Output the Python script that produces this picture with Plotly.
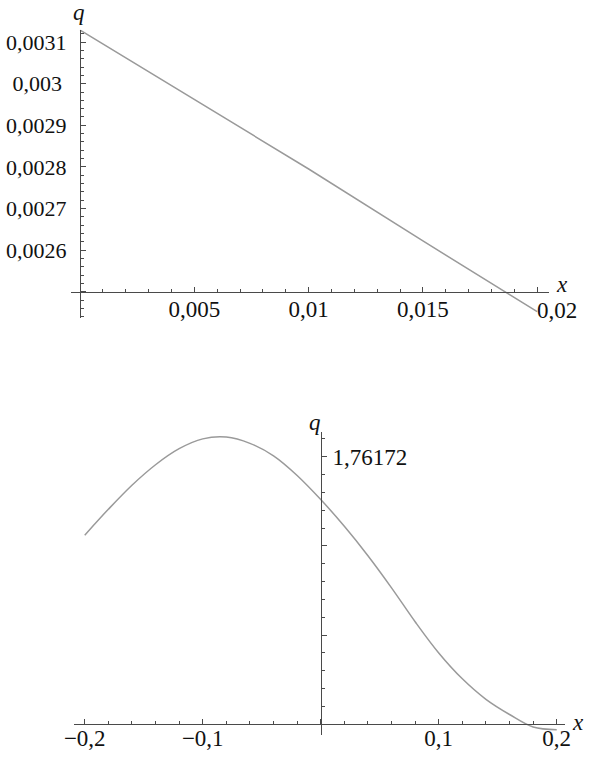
import plotly.graph_objects as go

# upper graph: q(x) for small x
x_top = [0.0, 0.005, 0.01, 0.015, 0.02]
q_top = [0.003129, 0.002962, 0.002795, 0.002622, 0.002452]
top_xticks = [0.0, 0.005, 0.01, 0.015, 0.02]
top_xlabels = ["", "0,005", "0,01", "0,015", ""]
top_yticks = [0.0025, 0.0026, 0.0027, 0.0028, 0.0029, 0.003, 0.0031]
top_ylabels = ["", "0,0026", "0,0027", "0,0028", "0,0029", "0,003\u2009", "0,0031"]

# lower graph: q(x) on -0.2 .. 0.2
x_bot = [-0.2, -0.18, -0.16, -0.14, -0.12, -0.1, -0.08, -0.06, -0.04, -0.02, 0.0,
         0.02, 0.04, 0.06, 0.08, 0.1, 0.12, 0.14, 0.16, 0.18, 0.2]
q_bot = [1.76171912, 1.76171941, 1.76171968, 1.76171991, 1.76172009, 1.76172020,
         1.76172022, 1.76172015, 1.76172001, 1.76171979, 1.76171952, 1.76171922,
         1.76171889, 1.76171853, 1.76171815, 1.76171780, 1.76171751, 1.76171728,
         1.76171711, 1.76171697, 1.76171694]
bot_xticks = [-0.2, -0.1, 0.0, 0.1, 0.2]
bot_xlabels = ["\u22120,2", "\u22120,1", "", "0,1", "0,2"]
bot_yticks = [1.761717, 1.761718, 1.761719, 1.76172]
bot_ylabels = ["", "", "", "1,76172"]

W, H = 604, 758
curve = "#9a9a9a"
axc = "#4a4a4a"
serif = "Liberation Serif, Times New Roman, serif"
tickfont = dict(family=serif, size=23, color="#111")


def px(v):
    return v / W


def py(v):
    return 1 - v / H


def axis(**kw):
    d = dict(showline=True, linecolor=axc, linewidth=1.3, showgrid=False,
             zeroline=False, tickcolor=axc, tickwidth=1, ticklen=5,
             tickmode="array", tickfont=tickfont, anchor="free", automargin=False)
    d.update(kw)
    return d


fig = go.Figure()
fig.add_trace(go.Scatter(x=x_top, y=q_top, mode="lines", xaxis="x", yaxis="y",
                         line=dict(color=curve, width=1.5), showlegend=False))
fig.add_trace(go.Scatter(x=x_bot, y=q_bot, mode="lines", xaxis="x2", yaxis="y2",
                         line=dict(color=curve, width=1.5, shape="spline"),
                         showlegend=False))

fig.update_layout(
    template="none",
    width=W, height=H, autosize=False,
    margin=dict(l=0, r=0, t=0, b=0, pad=0),
    paper_bgcolor="white", plot_bgcolor="white",
    xaxis=axis(domain=[px(71), px(548.6)], range=[-0.0004, 0.0205],
               position=py(291.7), ticks="inside",
               tickvals=top_xticks, ticktext=top_xlabels, ticklabelstandoff=-3,
               minor=dict(ticks="inside", ticklen=3, dtick=0.001, tick0=0,
                          tickcolor=axc, tickwidth=1)),
    yaxis=axis(domain=[py(318), py(29.5)], range=[0.0024368, 0.0031303],
               position=px(80), side="left", ticks="inside",
               tickvals=top_yticks, ticktext=top_ylabels, ticklabelstandoff=9,
               tickfont=dict(family=serif, size=22, color="#111"),
               minor=dict(ticks="inside", ticklen=3, dtick=0.00002, tick0=0.0025,
                          tickcolor=axc, tickwidth=1)),
    xaxis2=axis(domain=[px(74), px(565)], range=[-0.2091, 0.207],
                position=py(724.3), ticks="inside",
                tickvals=bot_xticks, ticktext=bot_xlabels, ticklabelstandoff=-7,
                minor=dict(ticks="inside", ticklen=3, dtick=0.02, tick0=0,
                           tickcolor=axc, tickwidth=1)),
    yaxis2=axis(domain=[py(735), py(432)], range=[1.76171688, 1.761720277],
                position=px(320.7), side="right", ticks="outside",
                tickvals=bot_yticks, ticktext=bot_ylabels, ticklabelstandoff=1,
                minor=dict(ticks="outside", ticklen=3, dtick=2e-7, tick0=1.761717,
                           tickcolor=axc, tickwidth=1)),
)

lab = dict(family=serif, size=23, color="#111", style="italic")
for tx, xx, yy in [("q", 79, 13), ("x", 562, 285), ("q", 315, 422), ("x", 578, 722)]:
    fig.add_annotation(text=tx, x=px(xx), y=py(yy), xref="paper", yref="paper",
                       showarrow=False, font=lab, xanchor="center", yanchor="middle")
# last label of the upper x axis sits to the right of its tick
fig.add_annotation(text="0,02", x=0.02, xref="x", y=py(310), yref="paper",
                   showarrow=False, font=tickfont, xanchor="left", yanchor="middle",
                   xshift=-2)

# the page body has a default 8px margin; drop it so the figure fills the window
fig.write_html("out.html", config={"displayModeBar": False},
               post_script="document.body.style.margin='0';")
